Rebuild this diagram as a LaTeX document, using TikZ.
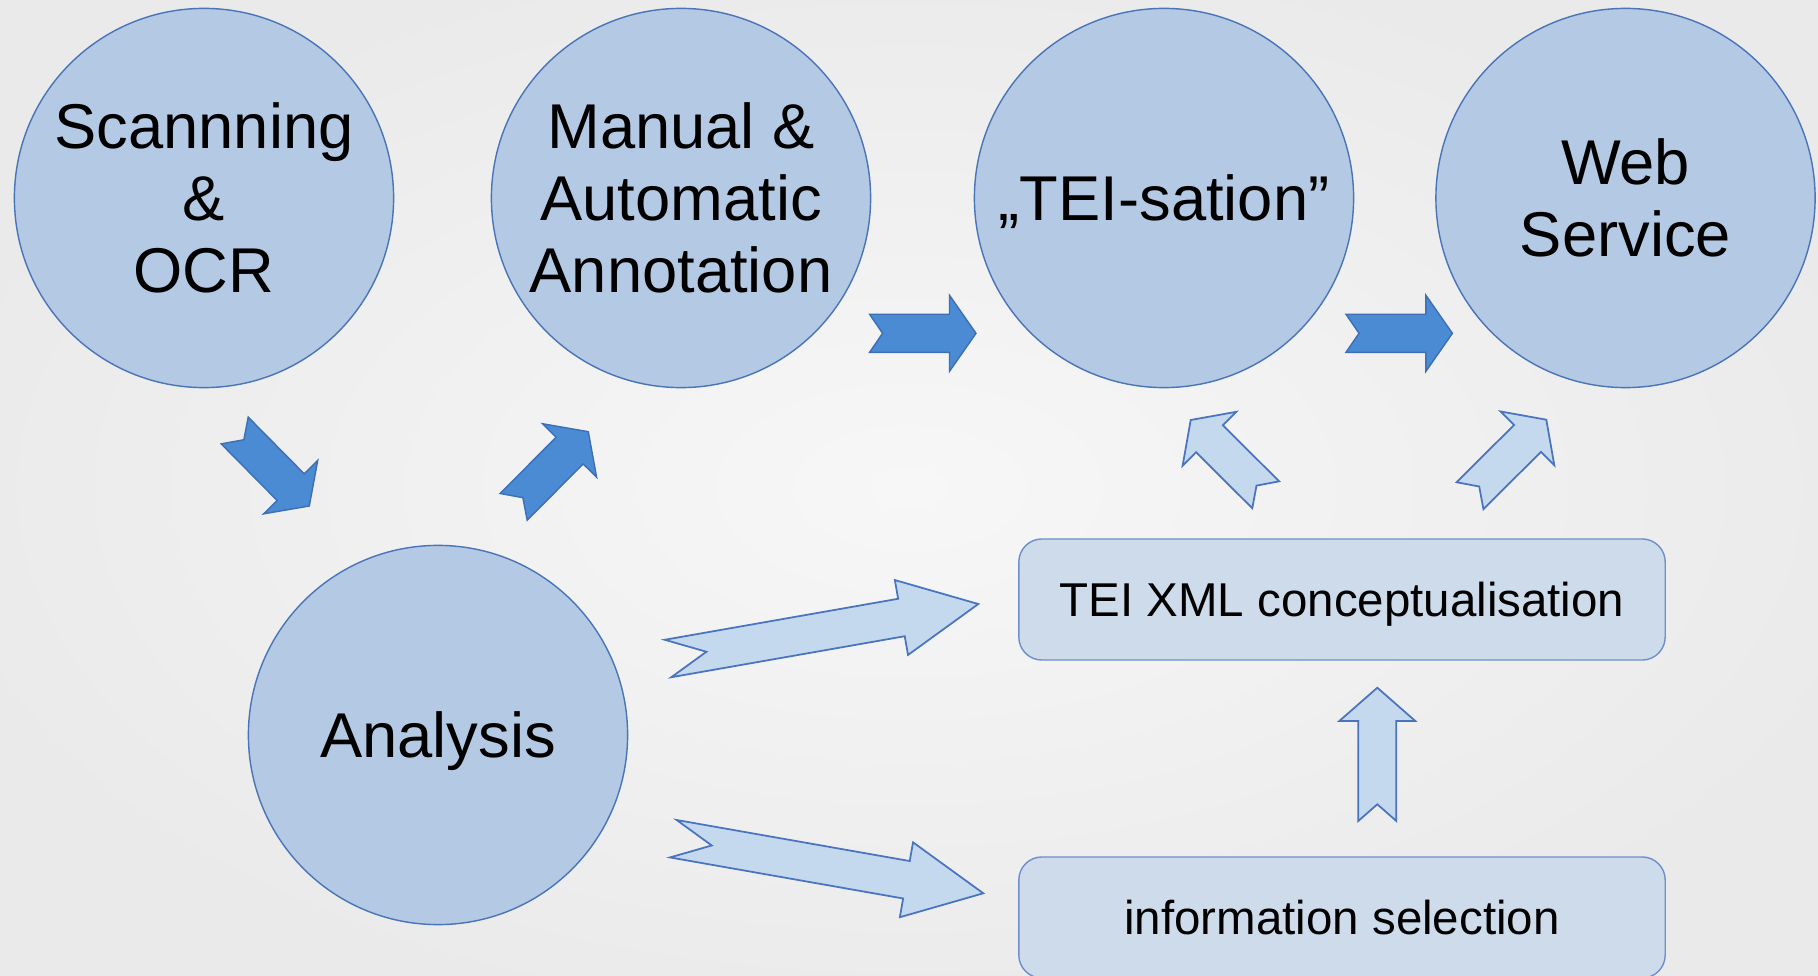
\documentclass[tikz,border=0pt]{standalone}
\usepackage{fontspec}
\setmainfont{Liberation Sans}
\usepackage{tikz}
\usetikzlibrary{calc}

\definecolor{bgin}{HTML}{F7F7F7}
\definecolor{bgout}{HTML}{EAEAEA}
\definecolor{circfill}{HTML}{B4C9E3}
\definecolor{circline}{HTML}{4A74B8}
\definecolor{darkfill}{HTML}{4A8BD4}
\definecolor{darkline}{HTML}{3C6FB5}
\definecolor{lightfill}{HTML}{C4D9EE}
\definecolor{lightline}{HTML}{4A74C0}
\definecolor{boxfill}{HTML}{CDDBEA}
\definecolor{boxline}{HTML}{6F8FCB}

% notched block arrow: #2 tail, #3 tip, #4 head length, #5 notch depth
\newcommand{\notcharrow}[5][]{%
  \coordinate (nb) at ($(#3)!#4!(#2)$);
  \draw[#1] ($(#2)!0.19cm!90:(#3)$) -- ($(#2)!#5!(#3)$) -- ($(#2)!0.19cm!-90:(#3)$)
    -- ($(nb)!0.19cm!-90:(#3)$) -- ($(nb)!0.38cm!-90:(#3)$) -- (#3)
    -- ($(nb)!0.38cm!90:(#3)$) -- ($(nb)!0.19cm!90:(#3)$) -- cycle;
}

\begin{document}
\begin{tikzpicture}[x=0.01cm,y=-0.01cm,
    stage/.style={draw=circline,line width=0.4pt,fill=circfill,circle,
      minimum size=3.79cm,inner sep=0pt,align=center,
      font=\fontsize{18}{20.5}\selectfont},
    oneline/.style={text height=12.9pt,text depth=0pt},
    task/.style={draw=boxline,line width=0.4pt,fill=boxfill,rounded corners=0.23cm,
      minimum width=6.46cm,minimum height=1.21cm,inner sep=0pt,
      text height=9.7pt,text depth=0pt,
      font=\fontsize{13.5}{16}\selectfont},
    darkarrow/.style={fill=darkfill,draw=darkline,line width=0.4pt,line join=miter},
    lightarrow/.style={fill=lightfill,draw=lightline,line width=0.5pt,line join=miter}]
  \path[use as bounding box] (0,0) rectangle (1818,976);
  \clip (0,0) rectangle (1818,976);
  \shade[inner color=bgin,outer color=bgout] (-100,-60) rectangle (1918,1036);

  % Workflow stages
  \node[stage] (scan) at (204,198) {Scannning\\\&\\OCR};
  \node[stage] (man) at (681,198) {Manual \&\\Automatic\\Annotation};
  \node[stage,oneline] (tei) at (1164,198) {„TEI-sation”};
  \node[stage] (web) at (1625.5,198) {Web\\Service};
  \node[stage,oneline] (ana) at (438,735) {Analysis};

  % Conceptual work
  \node[task] (xml) at (1342,599.5) {TEI XML conceptualisation};
  \node[task] (sel) at (1342,917.5) {information selection};

  % Arrow ends
  \coordinate (scan-t) at (234.7,430.5);  \coordinate (scan-h) at (309.3,506);
  \coordinate (ana-t) at (513.7,506.9);   \coordinate (ana-h) at (588.3,431.7);
  \coordinate (man-t) at (869.6,333.3);   \coordinate (man-h) at (976,333.3);
  \coordinate (tei-t) at (1346,333.3);    \coordinate (tei-h) at (1452.4,333.3);
  \coordinate (xmlA-t) at (1265.7,494.8); \coordinate (xmlA-h) at (1190.7,420);
  \coordinate (xmlB-t) at (1470,495.7);   \coordinate (xmlB-h) at (1546.3,419.7);
  \coordinate (anaA-t) at (668,658.5);    \coordinate (anaA-h) at (978.3,604);
  \coordinate (anaB-t) at (673.3,838.7);  \coordinate (anaB-h) at (983.3,893.3);
  \coordinate (sel-t) at (1377.3,821);    \coordinate (sel-h) at (1377.3,687.7);

  % Main flow (dark)
  \notcharrow[darkarrow]{scan-t}{scan-h}{0.265cm}{0.13cm}
  \notcharrow[darkarrow]{ana-t}{ana-h}{0.265cm}{0.13cm}
  \notcharrow[darkarrow]{man-t}{man-h}{0.265cm}{0.13cm}
  \notcharrow[darkarrow]{tei-t}{tei-h}{0.265cm}{0.13cm}

  % Side flow (light)
  \notcharrow[lightarrow]{xmlA-t}{xmlA-h}{0.265cm}{0.13cm}
  \notcharrow[lightarrow]{xmlB-t}{xmlB-h}{0.265cm}{0.13cm}
  \notcharrow[lightarrow]{anaA-t}{anaA-h}{0.78cm}{0.39cm}
  \notcharrow[lightarrow]{anaB-t}{anaB-h}{0.78cm}{0.39cm}
  \notcharrow[lightarrow]{sel-t}{sel-h}{0.333cm}{0.167cm}
\end{tikzpicture}
\end{document}
